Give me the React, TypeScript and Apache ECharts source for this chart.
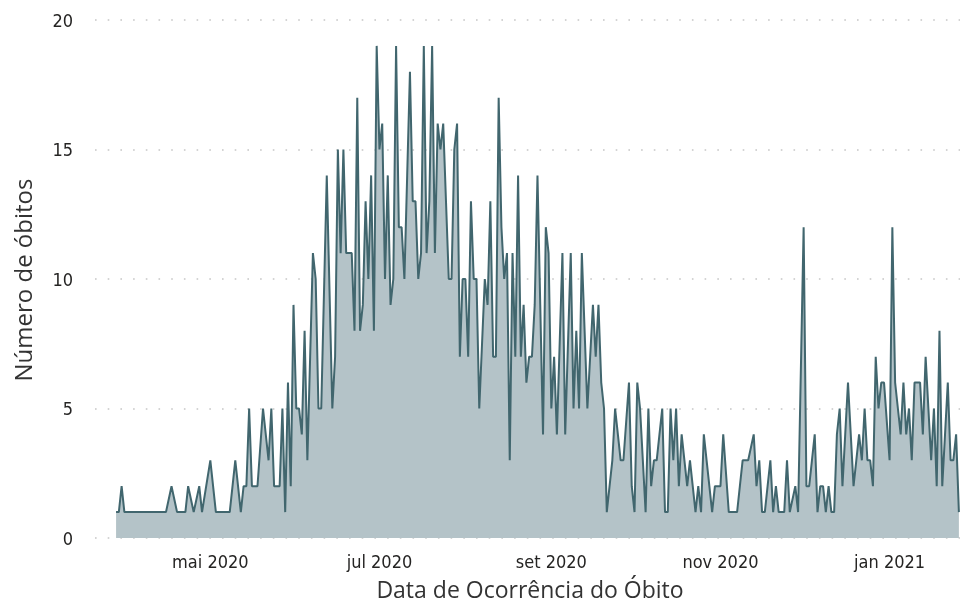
import React, { useEffect, useRef } from "react";
import * as echarts from "echarts";

// Daily deaths, [day of month, deaths] per month
const mar2020 = [[28, 1], [29, 1], [30, 2], [31, 1]];
const apr2020 = [[1, 1], [2, 1], [3, 1], [4, 1], [5, 1], [6, 1], [7, 1], [8, 1], [9, 1], [10, 1], [11, 1], [12, 1], [13, 1], [14, 1], [15, 1], [17, 2], [19, 1], [20, 1], [21, 1], [22, 1], [23, 2], [25, 1], [27, 2], [28, 1]];
const may2020 = [[1, 3], [3, 1], [4, 1], [5, 1], [6, 1], [7, 1], [8, 1], [10, 3], [12, 1], [13, 2], [14, 2], [15, 5], [16, 2], [17, 2], [18, 2], [20, 5], [22, 3], [23, 5], [24, 2], [25, 2], [26, 2], [27, 5], [28, 1], [29, 6], [30, 2], [31, 9]];
const jun2020 = [[1, 5], [2, 5], [3, 4], [4, 8], [5, 3], [6, 7], [7, 11], [8, 10], [9, 5], [10, 5], [12, 14], [14, 5], [15, 7], [16, 15], [17, 11], [18, 15], [19, 11], [20, 11], [21, 11], [22, 8], [23, 17], [24, 8], [25, 9], [26, 13], [27, 10], [28, 14], [29, 8], [30, 19]];
const jul2020 = [[1, 15], [2, 16], [3, 10], [4, 14], [5, 9], [6, 10], [7, 19], [8, 12], [9, 12], [10, 10], [11, 14], [12, 18], [13, 13], [14, 13], [15, 10], [16, 11], [17, 19], [18, 11], [19, 13], [20, 19], [21, 11], [22, 16], [23, 15], [24, 16], [25, 13], [26, 10], [27, 10], [28, 15], [29, 16], [30, 7], [31, 10]];
const aug2020 = [[1, 10], [2, 7], [3, 13], [4, 10], [5, 10], [6, 5], [8, 10], [9, 9], [10, 13], [11, 7], [12, 7], [13, 17], [14, 12], [15, 10], [16, 11], [17, 3], [18, 11], [19, 7], [20, 14], [21, 7], [22, 9], [23, 6], [24, 7], [25, 7], [26, 9], [27, 14], [28, 9], [29, 4], [30, 12], [31, 11]];
const sep2020 = [[1, 5], [2, 7], [3, 4], [5, 11], [6, 4], [8, 11], [9, 5], [10, 8], [11, 5], [12, 11], [13, 8], [14, 5], [15, 7], [16, 9], [17, 7], [18, 9], [19, 6], [20, 5], [21, 1], [22, 2], [23, 3], [24, 5], [25, 4], [26, 3], [27, 3], [29, 6], [30, 2]];
const oct2020 = [[1, 1], [2, 6], [3, 5], [4, 3], [5, 1], [6, 5], [7, 2], [8, 3], [9, 3], [10, 4], [11, 5], [12, 1], [13, 1], [14, 5], [15, 3], [16, 5], [17, 2], [18, 4], [19, 3], [20, 2], [21, 3], [22, 2], [23, 1], [24, 2], [25, 1], [26, 4], [27, 3], [28, 2], [29, 1], [30, 2], [31, 2]];
const nov2020 = [[1, 2], [2, 4], [4, 1], [5, 1], [6, 1], [7, 1], [8, 2], [9, 3], [10, 3], [11, 3], [13, 4], [14, 2], [15, 3], [16, 1], [17, 1], [18, 2], [19, 3], [20, 1], [21, 2], [22, 1], [23, 1], [24, 1], [25, 3], [26, 1], [28, 2], [29, 1]];
const dec2020 = [[1, 12], [2, 2], [3, 2], [4, 3], [5, 4], [6, 1], [7, 2], [8, 2], [9, 1], [10, 2], [11, 1], [12, 1], [13, 4], [14, 5], [15, 2], [16, 4], [17, 6], [18, 4], [19, 2], [20, 3], [21, 4], [22, 3], [23, 5], [24, 3], [25, 3], [26, 2], [27, 7], [28, 5], [29, 6], [30, 6]];
const jan2021 = [[1, 3], [2, 12], [3, 6], [4, 5], [5, 4], [6, 6], [7, 4], [8, 5], [9, 3], [10, 6], [11, 6], [12, 6], [13, 4], [14, 7], [15, 5], [16, 3], [17, 5], [18, 2], [19, 8], [20, 2], [21, 4], [22, 6], [23, 3], [24, 3], [25, 4], [26, 1]];

// [year, zero-based month, rows]
const months: [number, number, number[][]][] = [
  [2020, 2, mar2020], [2020, 3, apr2020], [2020, 4, may2020], [2020, 5, jun2020],
  [2020, 6, jul2020], [2020, 7, aug2020], [2020, 8, sep2020], [2020, 9, oct2020],
  [2020, 10, nov2020], [2020, 11, dec2020], [2021, 0, jan2021],
];

const monthNamesPt = ["jan", "fev", "mar", "abr", "mai", "jun", "jul", "ago", "set", "out", "nov", "dez"];
const xTickDates: [number, number][] = [[2020, 4], [2020, 6], [2020, 8], [2020, 10], [2021, 0]];
const yTicks = [0, 5, 10, 15, 20];

const yTitle = "Número de óbitos";
const xTitle = "Data de Ocorrência do Óbito";

const LINE = "#41666e";
const FILL = "#b4c3c8";
const TEXT = "#252423";

export default function App() {
  const ref = useRef<HTMLDivElement>(null);

  useEffect(() => {
    if (!ref.current) return;
    const chart = echarts.init(ref.current, undefined, { renderer: "svg" });

    const data: [number, number][] = [];
    months.forEach(([y, m, rows]) => {
      rows.forEach(([d, v]) => data.push([Date.UTC(y, m, d), v]));
    });
    const DAY = 86400000;
    const first = data[0][0];
    const last = data[data.length - 1][0];

    chart.setOption({
      animation: false,
      grid: { left: 95, right: 5, top: 20, bottom: 66, containLabel: false },
      xAxis: {
        type: "value",
        min: first - 7.6 * DAY,
        max: last + 0.4 * DAY,
        axisLine: { show: false },
        axisTick: { show: false },
        splitLine: { show: false },
        axisLabel: {
          customValues: xTickDates.map(([y, m]) => Date.UTC(y, m, 1)),
          formatter: (val: number) => {
            const d = new Date(val);
            return `${monthNamesPt[d.getUTCMonth()]} ${d.getUTCFullYear()}`;
          },
          color: TEXT,
          fontSize: 18,
          fontFamily: "'DejaVu Sans Condensed', Roboto, sans-serif",
          margin: 14,
          showMinLabel: true,
          showMaxLabel: true,
          hideOverlap: false,
        },
      },
      yAxis: {
        type: "value",
        min: yTicks[0],
        max: yTicks[yTicks.length - 1],
        interval: 5,
        axisLine: { show: false },
        axisTick: { show: false },
        axisLabel: {
          color: TEXT,
          fontSize: 18,
          fontFamily: "'DejaVu Sans Condensed', Roboto, sans-serif",
          margin: 22,
        },
        splitLine: {
          show: true,
          lineStyle: { color: "#c6c6c6", width: 1.6, type: [1.6, 11.1] },
        },
      },
      graphic: [
        {
          type: "text",
          x: 22,
          y: 280,
          rotation: Math.PI / 2,
          style: {
            text: yTitle,
            font: "24px 'Open Sans', sans-serif",
            fill: "#333333",
            align: "center",
            verticalAlign: "middle",
          },
        },
        {
          type: "text",
          x: 530,
          y: 589,
          style: {
            text: xTitle,
            font: "23px 'Open Sans', sans-serif",
            fill: "#333333",
            align: "center",
            verticalAlign: "middle",
          },
        },
      ],
      series: [
        {
          type: "line",
          data,
          symbol: "none",
          lineStyle: { color: LINE, width: 2 },
          itemStyle: { color: LINE },
          areaStyle: { color: FILL, opacity: 1 },
        },
      ],
    });

    return () => chart.dispose();
  }, []);

  return (
    <div
      ref={ref}
      style={{ position: "fixed", left: 0, top: 0, width: 965, height: 604 }}
    />
  );
}
